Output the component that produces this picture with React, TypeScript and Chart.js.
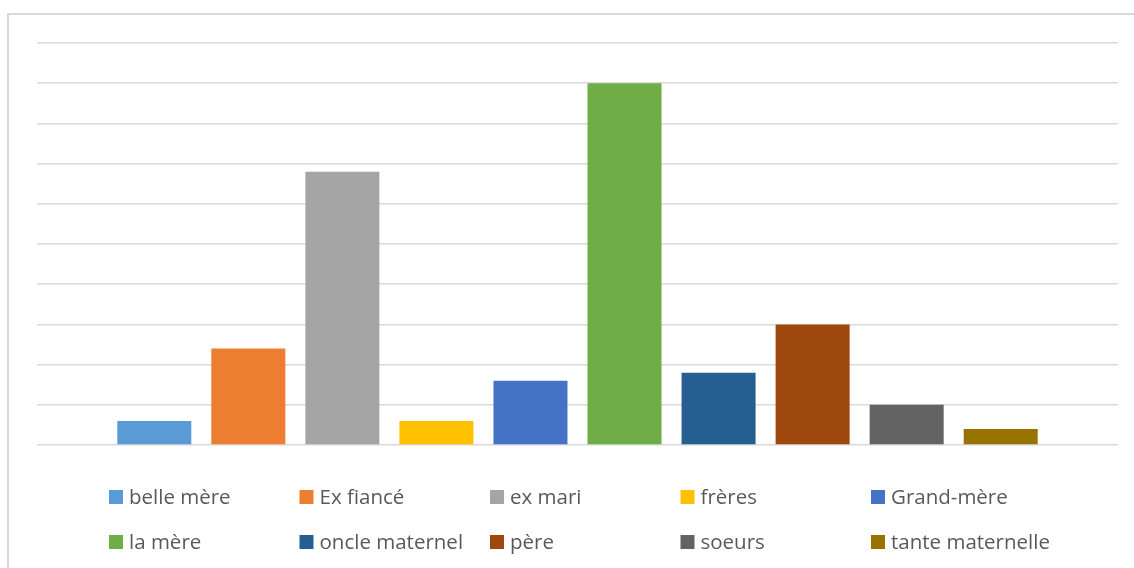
import React, { useEffect, useRef } from "react";
import { Chart, registerables } from "chart.js";

Chart.register(...registerables);

const seriesNames = [
  "belle mère",
  "Ex fiancé",
  "ex mari",
  "frères",
  "Grand-mère",
  "la mère",
  "oncle maternel",
  "père",
  "soeurs",
  "tante maternelle",
];
const seriesValues = [3, 12, 34, 3, 8, 45, 9, 15, 5, 2];
const seriesColors = [
  "#5B9BD5",
  "#ED7D31",
  "#A5A5A5",
  "#FFC000",
  "#4472C4",
  "#70AD47",
  "#255E91",
  "#9E480E",
  "#636363",
  "#997300",
];
const categories = [""];

const FONT = "'Open Sans', 'Liberation Sans', sans-serif";

const legendPlugin = {
  id: "excelLegend",
  afterDraw(chart: any) {
    const ctx = chart.ctx;
    const area = chart.chartArea;
    const startX = area.left + 72;
    const step = 190.5;
    const rows = [area.bottom + 52, area.bottom + 97];
    ctx.save();
    ctx.font = `20.5px ${FONT}`;
    ctx.textBaseline = "middle";
    ctx.textAlign = "left";
    chart.data.datasets.forEach((ds: any, i: number) => {
      const col = i % 5;
      const row = Math.floor(i / 5);
      const x = startX + col * step;
      const y = rows[row];
      ctx.fillStyle = ds.backgroundColor;
      ctx.fillRect(x, y - 7, 14, 14);
      ctx.fillStyle = "#595959";
      ctx.fillText(ds.label, x + 20, y + 1);
    });
    ctx.restore();
  },
};

export default function App() {
  const canvasRef = useRef<HTMLCanvasElement | null>(null);

  useEffect(() => {
    if (!canvasRef.current) return;
    const chart = new Chart(canvasRef.current, {
      type: "bar",
      data: {
        labels: categories,
        datasets: seriesNames.map((name, i) => ({
          label: name,
          data: [seriesValues[i]],
          backgroundColor: seriesColors[i],
          borderWidth: 0,
          barPercentage: 0.787,
          categoryPercentage: 0.87,
        })),
      },
      options: {
        responsive: true,
        maintainAspectRatio: false,
        animation: false,
        layout: { padding: { left: 28, right: 15, top: 28, bottom: 123 } },
        plugins: {
          legend: { display: false },
          tooltip: { enabled: false },
        },
        scales: {
          x: {
            display: false,
          },
          y: {
            min: 0,
            max: 50,
            ticks: { display: false, stepSize: 5 },
            border: { display: false },
            grid: { color: "#D9D9D9", lineWidth: 1.5, drawTicks: false },
          },
        },
      },
      plugins: [legendPlugin],
    });
    return () => chart.destroy();
  }, []);

  return (
    <div
      style={{
        position: "absolute",
        left: 7,
        top: 13,
        width: 1140,
        height: 600,
        border: "2px solid #D9D9D9",
        boxSizing: "border-box",
        background: "#fff",
      }}
    >
      <div style={{ position: "absolute", left: 0, top: 0, width: 1124, height: 553 }}>
        <canvas ref={canvasRef} />
      </div>
    </div>
  );
}
